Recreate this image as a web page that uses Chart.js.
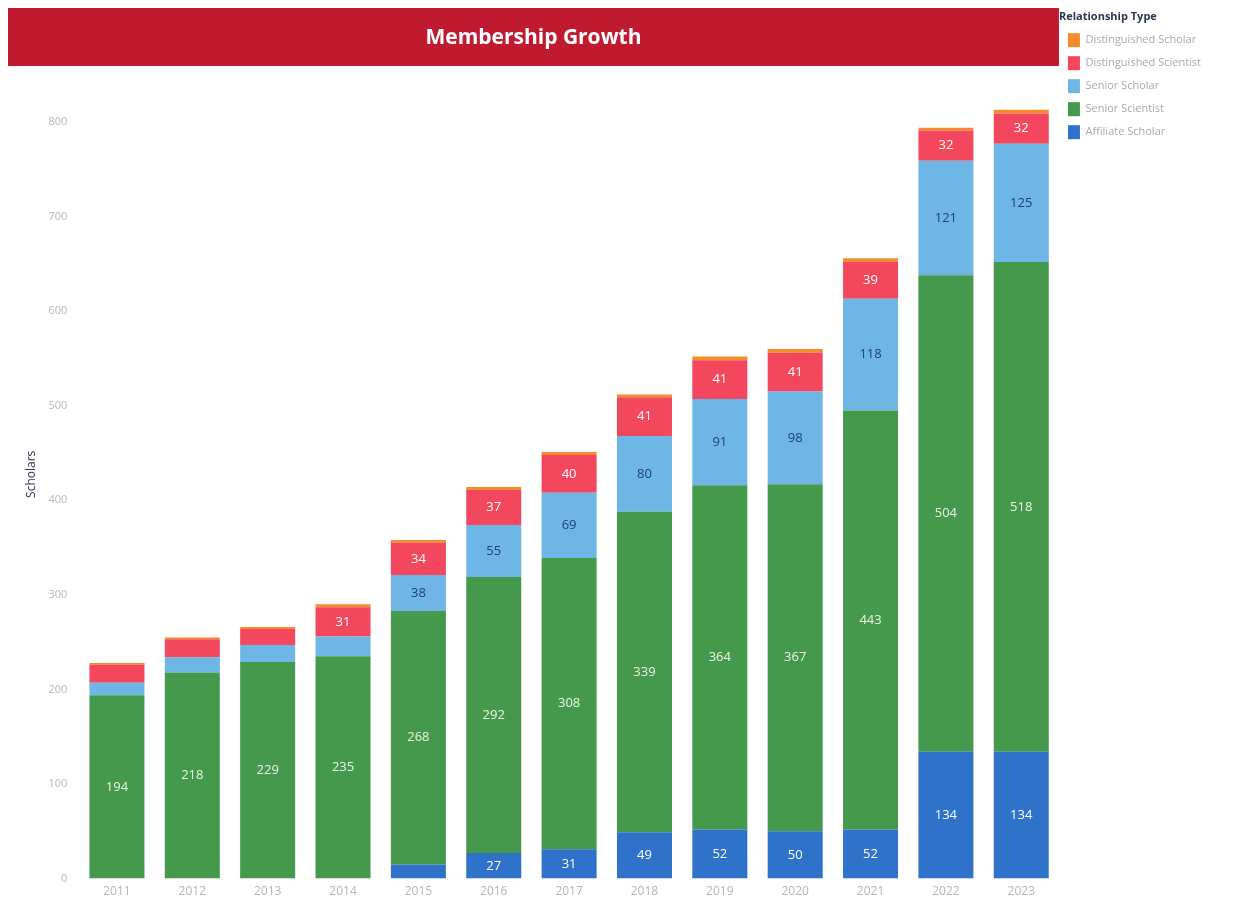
<!DOCTYPE html>
<html>
<head>
<meta charset="utf-8">
<title>Membership Growth</title>
<script src="https://cdn.jsdelivr.net/npm/chart.js@4.4.1/dist/chart.umd.min.js"></script>
<style>
  html, body { margin: 0; padding: 0; background: #ffffff; }
  #wrap { width: 1242px; height: 905px; position: relative; }
  canvas { display: block; }
</style>
</head>
<body>
<div id="wrap"><canvas id="chart" width="1242" height="905"></canvas></div>
<script>
// Membership counts per year, split by relationship type
const years = ['2011', '2012', '2013', '2014', '2015', '2016', '2017', '2018', '2019', '2020', '2021', '2022', '2023'];
const affiliateScholar       = [0, 0, 0, 0, 15, 27, 31, 49, 52, 50, 52, 134, 134];
const seniorScientist        = [194, 218, 229, 235, 268, 292, 308, 339, 364, 367, 443, 504, 518];
const seniorScholar          = [13, 16, 18, 21, 38, 55, 69, 80, 91, 98, 118, 121, 125];
const distinguishedScientist = [19, 19, 17, 31, 34, 37, 40, 41, 41, 41, 39, 32, 32];
const distinguishedScholar   = [2, 2, 2, 3, 3, 3, 3, 3, 4, 4, 4, 3, 4];
const yTicks = [0, 100, 200, 300, 400, 500, 600, 700, 800];

const FONT = "'Open Sans', 'Noto Sans', sans-serif";

// Segments smaller than this are left without a value label
const LABEL_MIN = 25;

// Red title banner, reserved as its own layout box at the top of the chart
function makeBanner(text) {
  return {
    position: 'top', weight: 3000, fullSize: true, options: {},
    left: 0, top: 0, right: 0, bottom: 0, width: 0, height: 0,
    chart: null,
    update(maxWidth) { this.width = maxWidth; this.height = 70; },
    isHorizontal() { return true; },
    draw() {
      const chart = this.chart, ctx = chart.ctx;
      const x0 = 8, x1 = chart.chartArea.right, y0 = this.top + 8, y1 = this.top + 66;
      ctx.save();
      ctx.fillStyle = '#c01a31';
      ctx.fillRect(x0, y0, x1 - x0, y1 - y0);
      ctx.fillStyle = '#ffffff';
      ctx.font = "bold 21px " + FONT;
      ctx.textAlign = 'center';
      ctx.textBaseline = 'middle';
      ctx.fillText(text, (x0 + x1) / 2, (y0 + y1) / 2 + 1);
      ctx.restore();
    }
  };
}

const bannerPlugin = {
  id: 'banner',
  beforeInit(chart) {
    const box = makeBanner('Membership Growth');
    box.chart = chart;
    Chart.layouts.addBox(chart, box);
  }
};

// Value labels centred inside each stacked segment
const segmentLabels = {
  id: 'segmentLabels',
  afterDatasetsDraw(chart) {
    const ctx = chart.ctx;
    ctx.save();
    ctx.font = "13px " + FONT;
    ctx.textAlign = 'center';
    ctx.textBaseline = 'middle';
    chart.data.datasets.forEach((ds, i) => {
      const meta = chart.getDatasetMeta(i);
      if (meta.hidden) return;
      meta.data.forEach((bar, j) => {
        const v = ds.data[j];
        if (v < LABEL_MIN) return;
        ctx.fillStyle = ds.valueColor;
        ctx.fillText(String(v), bar.x, (bar.y + bar.base) / 2);
      });
    });
    ctx.restore();
  }
};

const datasets = [
  { label: 'Affiliate Scholar',       data: affiliateScholar,       backgroundColor: '#2f72c9', valueColor: '#ffffff' },
  { label: 'Senior Scientist',        data: seniorScientist,        backgroundColor: '#45994c', valueColor: '#eef3e6' },
  { label: 'Senior Scholar',          data: seniorScholar,          backgroundColor: '#6db6e6', valueColor: '#23406e' },
  { label: 'Distinguished Scientist', data: distinguishedScientist, backgroundColor: '#f2475c', valueColor: '#ffffff' },
  { label: 'Distinguished Scholar',   data: distinguishedScholar,   backgroundColor: '#f58b2c', valueColor: '#ffffff' }
];

new Chart(document.getElementById('chart'), {
  type: 'bar',
  data: {
    labels: years,
    datasets: datasets.map(d => Object.assign({
      borderWidth: 0,
      categoryPercentage: 0.73,
      barPercentage: 1.0
    }, d))
  },
  options: {
    responsive: false,
    animation: false,
    devicePixelRatio: 1,
    layout: { padding: { top: 0, left: 24, right: 31, bottom: 0 } },
    plugins: {
      tooltip: { enabled: false },
      legend: {
        position: 'right',
        align: 'start',
        reverse: true,
        title: {
          display: true,
          position: 'start',
          text: 'Relationship Type',
          color: '#2b3553',
          font: { family: FONT, size: 11, weight: 'bold' },
          padding: { top: 11, bottom: 0 }
        },
        labels: {
          boxWidth: 12,
          boxHeight: 14,
          padding: 9,
          color: '#a9a9a9',
          font: { family: FONT, size: 11 }
        }
      }
    },
    scales: {
      x: {
        stacked: true,
        grid: { display: false, drawTicks: false },
        border: { display: false },
        ticks: { color: '#b5b5b5', font: { family: FONT, size: 12 }, padding: 6 }
      },
      y: {
        stacked: true,
        min: 0,
        max: 855,
        grid: { display: false },
        border: { display: false },
        afterBuildTicks(scale) {
          scale.ticks = yTicks.map(v => ({ value: v }));
        },
        ticks: { color: '#b8b8b8', font: { family: FONT, size: 11 }, padding: 4 },
        title: {
          display: true,
          text: 'Scholars',
          color: '#2b3553',
          font: { family: FONT, size: 12 },
          padding: { top: 0, bottom: 6 }
        }
      }
    }
  },
  plugins: [bannerPlugin, segmentLabels]
});
</script>
</body>
</html>
